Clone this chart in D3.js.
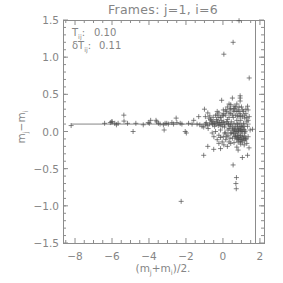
<!DOCTYPE html>
<html>
<head>
<meta charset="utf-8">
<script src="https://cdn.jsdelivr.net/npm/d3@7"></script>
<style>
  body { margin: 0; background: #fff; }
  svg { display: block; font-family: "DejaVu Sans", sans-serif; }
</style>
</head>
<body>
<svg id="chart"></svg>
<script>
// frame pair j=1, i=6 : mean magnitude vs magnitude difference
const title = "Frames: j=1, i=6";
const meanOffset = "0.10";   // T_ij
const offsetErr = "0.11";    // dT_ij

const xDomain = [-8.65, 2.22];
const yDomain = [-1.5, 1.5];
const xMajor = [-8, -6, -4, -2, 0, 2];
const yMajor = [-1.5, -1.0, -0.5, 0.0, 0.5, 1.0, 1.5];

const offsetLine = { value: 0.10, from: -8.21, to: 1.50 };
const magLimit = 1.75;

// [ (m_j+m_i)/2 , m_j-m_i ]
const points = [
  [-8.21, 0.08], [-6.40, 0.11], [-6.09, 0.12], [-6.03, 0.13], [-5.98, 0.13], [-5.85, 0.11],
  [-5.76, 0.09], [-5.67, 0.11], [-5.36, 0.22], [-5.35, 0.14], [-5.16, 0.11], [-4.86, 0.00],
  [-4.71, 0.11], [-4.31, 0.09], [-4.04, 0.12], [-3.98, 0.11], [-3.91, 0.15], [-3.62, 0.15],
  [-3.58, 0.13], [-3.49, 0.11], [-3.40, 0.10], [-3.22, 0.09], [-3.18, 0.02], [-3.13, 0.11],
  [-3.04, 0.11], [-2.95, 0.10], [-2.76, 0.12], [-2.67, 0.10], [-2.53, 0.18], [-2.49, 0.12],
  [-2.31, 0.11], [-2.22, 0.10], [-2.04, 0.00], [-1.98, -0.02], [-1.86, 0.11], [-1.67, 0.10],
  [-1.58, 0.15], [-1.40, 0.10], [-1.31, 0.20], [-1.25, 0.09], [-1.13, 0.07], [-1.04, 0.06],
  [-2.26, -0.94],
  [-1.00, 0.30], [-0.95, 0.10], [-0.95, 0.20], [-0.90, 0.12], [-0.85, 0.08], [-0.82, 0.25],
  [-0.80, 0.04], [-0.76, 0.18], [-0.72, 0.10], [-0.71, 0.21], [-0.67, 0.16], [-0.64, 0.15],
  [-0.60, 0.13], [-0.58, 0.11], [-0.55, 0.09], [-0.53, 0.19], [-0.49, 0.13], [-0.45, 0.07],
  [-0.45, 0.11], [-0.40, 0.22], [-0.38, 0.10], [-0.35, 0.16], [-0.31, 0.27], [-0.31, 0.22],
  [-0.30, 0.14], [-0.27, 0.12], [-0.25, 0.08], [-0.22, 0.19], [-0.22, 0.25], [-0.18, 0.12],
  [-0.16, 0.09], [-0.13, 0.02], [-0.13, 0.19], [-0.10, 0.10], [-0.09, 0.15], [-0.07, 0.42],
  [-0.04, 0.07], [-0.04, 0.22], [0.00, 0.12], [0.02, 0.29], [0.02, 0.21], [0.05, 0.13],
  [0.05, 0.24], [0.09, 0.06], [0.10, 0.09], [0.15, 0.22], [0.15, -0.02], [0.15, 0.29],
  [0.20, 0.27], [0.20, 0.13], [0.24, 0.16], [0.24, 0.33], [0.27, 0.11], [0.27, 0.02],
  [0.30, 0.10], [0.33, 0.37], [0.33, 0.19], [0.33, 0.04], [0.33, 0.25], [0.38, 0.30],
  [0.38, 0.07], [0.42, 0.24], [0.42, -0.02], [0.42, 0.09], [0.42, 0.31], [0.42, 0.36],
  [0.45, 0.13], [0.51, 0.45], [0.51, 0.06], [0.51, 0.02], [0.51, 0.22], [0.56, 0.29],
  [0.56, 0.19], [0.60, 0.11], [0.60, 0.02], [0.60, 0.04], [0.60, 0.27], [0.60, 0.34],
  [0.64, 0.31], [0.64, -0.07], [0.69, 0.22], [0.69, 0.07], [0.69, 0.00], [0.69, 0.33],
  [0.75, 0.27], [0.75, 0.15], [0.75, 0.00], [0.75, 0.37], [0.78, 0.10], [0.78, -0.05],
  [0.78, 0.06], [0.78, 0.21], [0.82, 0.29], [0.82, 0.03], [0.84, -0.09], [0.84, 0.01],
  [0.87, 0.20], [0.87, 0.11], [0.87, 0.04], [0.87, 0.27], [0.87, 0.33], [0.93, 0.48],
  [0.93, 0.45], [0.93, 0.41], [0.93, 0.24], [0.93, 0.02], [0.93, 0.07], [0.96, 0.15],
  [0.96, -0.06], [0.96, 0.02], [0.96, 0.21], [1.00, 0.33], [1.00, 0.07], [1.00, -0.11],
  [1.05, 0.20], [1.05, 0.00], [1.05, 0.06], [1.05, 0.29], [1.11, 0.27], [1.11, 0.11],
  [1.11, 0.03], [1.15, -0.06], [1.15, 0.07], [1.15, 0.22], [1.18, 0.18], [1.18, 0.02],
  [1.20, 0.00], [1.24, 0.30], [1.24, -0.09], [1.24, 0.24], [1.29, 0.13], [1.29, 0.19],
  [1.33, 0.34], [1.33, 0.07], [1.36, 0.29], [1.36, -0.07], [1.36, 0.15], [1.42, 0.20],
  [1.47, 0.02], [1.60, 0.03],
  [1.42, 0.72], [0.55, 1.20], [0.05, 1.04], [0.87, 1.49],
  [-0.58, -0.02], [-0.49, -0.07], [-0.40, 0.00], [-0.31, -0.11], [-0.22, -0.05], [-0.22, -0.16],
  [-0.13, -0.08], [-0.13, -0.23], [-0.04, -0.14], [0.02, -0.07], [0.05, -0.18], [0.09, -0.02],
  [0.15, -0.11], [0.20, -0.07], [0.24, -0.20], [0.27, -0.05], [0.33, -0.14], [0.38, -0.09],
  [0.42, -0.16], [0.45, -0.02], [0.51, -0.09], [0.56, -0.03], [0.60, -0.15], [0.60, -0.02],
  [0.64, 0.02], [0.69, -0.07], [0.69, -0.06], [0.75, -0.21], [0.75, -0.11], [0.78, -0.09],
  [0.82, -0.25], [0.82, -0.02], [0.82, -0.14], [0.87, -0.11], [0.87, -0.08], [0.93, -0.05],
  [0.93, -0.14], [0.96, -0.17], [0.96, -0.11], [1.00, 0.00], [1.05, -0.35], [1.05, -0.07],
  [1.05, -0.14], [1.11, -0.09], [1.15, -0.18], [1.15, -0.12], [1.18, -0.02], [1.20, -0.09],
  [1.24, -0.11], [1.29, -0.16], [1.33, -0.32], [1.41, -0.22],
  [-0.82, -0.20], [-1.04, -0.32], [-0.50, -0.24], [0.55, -0.45], [0.73, -0.62], [0.70, -0.70],
  [0.72, -0.77]
];

const width = 283, height = 283;
const margin = { top: 20, right: 19, bottom: 40, left: 63 };
const axisColor = "#8c8c8c";
const textColor = "#858585";

const svg = d3.select("#chart")
  .attr("width", width)
  .attr("height", height);

svg.append("rect").attr("width", width).attr("height", height).attr("fill", "#fff");

const x = d3.scaleLinear().domain(xDomain).range([margin.left, width - margin.right]);
const y = d3.scaleLinear().domain(yDomain).range([height - margin.bottom, margin.top]);

const x0 = x.range()[0], x1 = x.range()[1];
const y0 = y.range()[0], y1 = y.range()[1];

// --- frame and ticks (IDL style: ticks inside on all four sides) ---
const frame = svg.append("g").attr("stroke", axisColor).attr("stroke-width", 1).attr("fill", "none");
frame.append("rect")
  .attr("x", x0).attr("y", y1)
  .attr("width", x1 - x0).attr("height", y0 - y1)
  .attr("shape-rendering", "crispEdges");

const xMinor = d3.range(-8.5, 2.01, 0.5).filter(v => v > xDomain[0] && v < xDomain[1]);
const yMinor = d3.range(-1.4, 1.41, 0.1);

function xTick(v, len) {
  frame.append("line").attr("x1", x(v)).attr("x2", x(v)).attr("y1", y0).attr("y2", y0 - len);
  frame.append("line").attr("x1", x(v)).attr("x2", x(v)).attr("y1", y1).attr("y2", y1 + len);
}
function yTick(v, len) {
  frame.append("line").attr("y1", y(v)).attr("y2", y(v)).attr("x1", x0).attr("x2", x0 + len);
  frame.append("line").attr("y1", y(v)).attr("y2", y(v)).attr("x1", x1).attr("x2", x1 - len);
}
xMinor.forEach(v => xTick(v, xMajor.includes(v) ? 5 : 3));
yMinor.forEach(v => yTick(v, 3));
yMajor.forEach(v => yTick(v, 5));

// tick labels
const fmtMinus = s => s.replace("-", "\u2212");
svg.append("g").selectAll("text")
  .data(xMajor).join("text")
  .attr("x", d => x(d)).attr("y", y0 + 17)
  .attr("text-anchor", "middle")
  .attr("font-size", 10.5).attr("fill", textColor)
  .text(d => fmtMinus(String(d)));

svg.append("g").selectAll("text")
  .data(yMajor).join("text")
  .attr("x", x0 - 4).attr("y", d => y(d) + 4)
  .attr("text-anchor", "end")
  .attr("font-size", 10.5).attr("fill", textColor)
  .text(d => fmtMinus(d3.format(".1f")(d)));

// title
svg.append("text")
  .attr("x", 163).attr("y", 14)
  .attr("text-anchor", "middle")
  .attr("font-size", 12.5).attr("fill", textColor)
  .attr("letter-spacing", 0.3)
  .text(title);

// axis titles with subscripts
const xl = svg.append("text")
  .attr("x", 163).attr("y", 272)
  .attr("text-anchor", "middle")
  .attr("font-size", 10.5).attr("fill", textColor);
xl.append("tspan").text("(m");
xl.append("tspan").attr("dy", 2.5).attr("font-size", 7).text("j");
xl.append("tspan").attr("dy", -2.5).text("+m");
xl.append("tspan").attr("dy", 2.5).attr("font-size", 7).text("i");
xl.append("tspan").attr("dy", -2.5).text(")/2.");

const yl = svg.append("text")
  .attr("transform", "translate(25,127) rotate(-90)")
  .attr("text-anchor", "middle")
  .attr("font-size", 10.5).attr("fill", textColor);
yl.append("tspan").text("m");
yl.append("tspan").attr("dy", 2.5).attr("font-size", 7).text("j");
yl.append("tspan").attr("dy", -2.5).text("\u2212m");
yl.append("tspan").attr("dy", 2.5).attr("font-size", 7).text("i");

// annotation
function note(yPos, prefix, value, valueX) {
  const t = svg.append("text")
    .attr("x", x0 + 9).attr("y", yPos)
    .attr("font-size", 10).attr("fill", textColor);
  t.append("tspan").text(prefix + "T");
  t.append("tspan").attr("dy", 2.5).attr("font-size", 6.5).text("ij");
  t.append("tspan").attr("dy", -2.5).text(":");
  svg.append("text")
    .attr("x", valueX).attr("y", yPos)
    .attr("font-size", 10).attr("fill", textColor)
    .text(value);
}
note(36, "", meanOffset, x0 + 31);
note(49, "\u03b4", offsetErr, x0 + 36);

// mean offset line and magnitude limit
svg.append("line")
  .attr("x1", x(offsetLine.from)).attr("x2", x(offsetLine.to))
  .attr("y1", y(offsetLine.value)).attr("y2", y(offsetLine.value))
  .attr("stroke", "#666").attr("stroke-width", 0.8);

svg.append("line")
  .attr("x1", x(magLimit)).attr("x2", x(magLimit))
  .attr("y1", y1).attr("y2", y0)
  .attr("stroke", axisColor).attr("stroke-width", 1)
  .attr("shape-rendering", "crispEdges");

// plus markers
const s = 2.5;
svg.append("g")
  .attr("stroke", "#505050").attr("stroke-width", 0.7).attr("fill", "none")
  .selectAll("path")
  .data(points).join("path")
  .attr("d", d => {
    const px = x(d[0]), py = y(d[1]);
    return `M${px - s},${py}H${px + s}M${px},${py - s}V${py + s}`;
  });
</script>
</body>
</html>
